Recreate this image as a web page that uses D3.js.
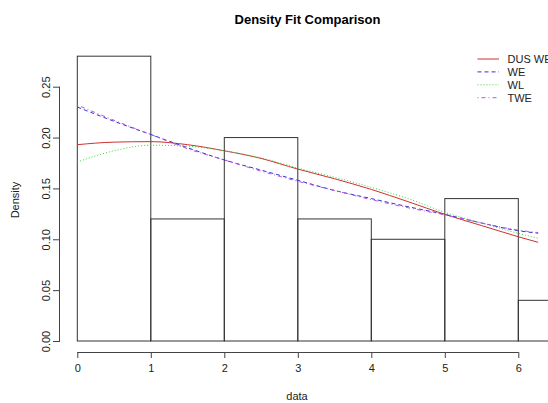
<!DOCTYPE html>
<html><head><meta charset="utf-8">
<script src="https://cdn.jsdelivr.net/npm/d3@7"></script>
<style>body{margin:0;background:#fff}svg{display:block}text{font-family:"Liberation Sans",Arial,sans-serif}</style>
</head><body>
<svg id="c" width="548" height="403"></svg>
<script>
const binEdges = [0,1,2,3,4,5,6,7];
const binDensity = [0.28,0.12,0.20,0.12,0.10,0.14,0.04];
const curveX = [0,0.5,1,1.5,2,2.5,3,3.5,4,4.5,5,5.5,6,6.27];
const dusWE = [0.193,0.1955,0.196,0.193,0.187,0.1795,0.169,0.1595,0.149,0.137,0.1245,0.1135,0.1025,0.097];
const we    = [0.230,0.216,0.203,0.190,0.178,0.168,0.158,0.148,0.140,0.132,0.1245,0.116,0.1084,0.106];
const wl    = [0.176,0.187,0.1925,0.1915,0.187,0.180,0.170,0.161,0.151,0.140,0.1265,0.116,0.1058,0.101];
const twe   = [0.232,0.217,0.203,0.189,0.178,0.167,0.157,0.148,0.139,0.131,0.124,0.116,0.109,0.1066];
const xTicks = [0,1,2,3,4,5,6];
const yTicks = [0,0.05,0.10,0.15,0.20,0.25];
const seriesNames = ["DUS WE","WE","WL","TWE"];

const svg = d3.select("#c");
const x = d3.scaleLinear().domain([0,6]).range([77.3,518.3]);
const y = d3.scaleLinear().domain([0,0.25]).range([341,86.7]);

// title
svg.append("text").attr("x",307.5).attr("y",24).attr("text-anchor","middle")
  .attr("font-weight","bold").attr("font-size",13).attr("fill","#000").text("Density Fit Comparison");

// bars
const bins = binDensity.map((d,i)=>({x0:binEdges[i],x1:binEdges[i+1],d}));
svg.append("g").selectAll("rect").data(bins).join("rect")
  .attr("x",b=>x(b.x0)).attr("y",b=>y(b.d))
  .attr("width",b=>x(b.x1)-x(b.x0)).attr("height",b=>y(0)-y(b.d))
  .attr("fill","none").attr("stroke","#333").attr("stroke-width",1);

// axes
const xAxis = d3.axisBottom(x).tickValues(xTicks).tickFormat(d3.format("d")).tickSize(6).tickPadding(6);
const gx = svg.append("g").attr("transform","translate(0,352)").call(xAxis);
gx.select(".domain").attr("d",`M${x(0)},0.5H${x(6)}`).attr("stroke","#444");
gx.selectAll(".tick line").attr("stroke","#444");
gx.selectAll("text").attr("font-size",11).attr("fill","#222").attr("font-family","Liberation Sans, Arial, sans-serif");

const yAxis = d3.axisLeft(y).tickValues(yTicks).tickFormat(d3.format(".2f")).tickSize(7);
const gy = svg.append("g").attr("transform","translate(60,0)").call(yAxis);
gy.select(".domain").attr("d",`M-0.5,${y(0)}V${y(0.25)}`).attr("stroke","#444");
gy.selectAll(".tick line").attr("stroke","#444");
gy.selectAll("text").attr("font-size",11).attr("fill","#222").attr("font-family","Liberation Sans, Arial, sans-serif")
  .attr("transform","rotate(-90)").attr("x",0).attr("dy",0).attr("y",-14.5).attr("text-anchor","middle")
  .attr("dominant-baseline","central");
gy.selectAll(".tick text").each(function(){
  const t=d3.select(this.parentNode).attr("transform");
});

svg.append("text").attr("x",297).attr("y",400).attr("text-anchor","middle").attr("font-size",11).attr("fill","#222").text("data");
svg.append("text").attr("transform","translate(19,200) rotate(-90)").attr("text-anchor","middle").attr("font-size",11).attr("fill","#222").text("Density");

// curves
const styles = [
  {vals:dusWE,color:"#d03030",dash:null},
  {vals:we,color:"#3333cc",dash:"4,3"},
  {vals:wl,color:"#44cc44",dash:"1,2"},
  {vals:twe,color:"#bb55dd",dash:"1,3,4,3"}
];
const line = d3.line().x(d=>x(d[0])).y(d=>y(d[1])).curve(d3.curveMonotoneX);
styles.forEach(s=>{
  svg.append("path").datum(curveX.map((v,i)=>[v,s.vals[i]]))
    .attr("d",line).attr("fill","none").attr("stroke",s.color).attr("stroke-width",1)
    .attr("stroke-dasharray",s.dash);
});

// legend
const lg = svg.append("g");
seriesNames.forEach((n,i)=>{
  const yy = 59 + i*12.9;
  lg.append("line").attr("x1",477.5).attr("x2",499).attr("y1",yy).attr("y2",yy)
    .attr("stroke",styles[i].color).attr("stroke-width",1).attr("stroke-dasharray",styles[i].dash);
  lg.append("text").attr("x",507.5).attr("y",yy).attr("dominant-baseline","central")
    .attr("font-size",11).attr("fill","#222").text(n);
});
</script>
</body></html>
